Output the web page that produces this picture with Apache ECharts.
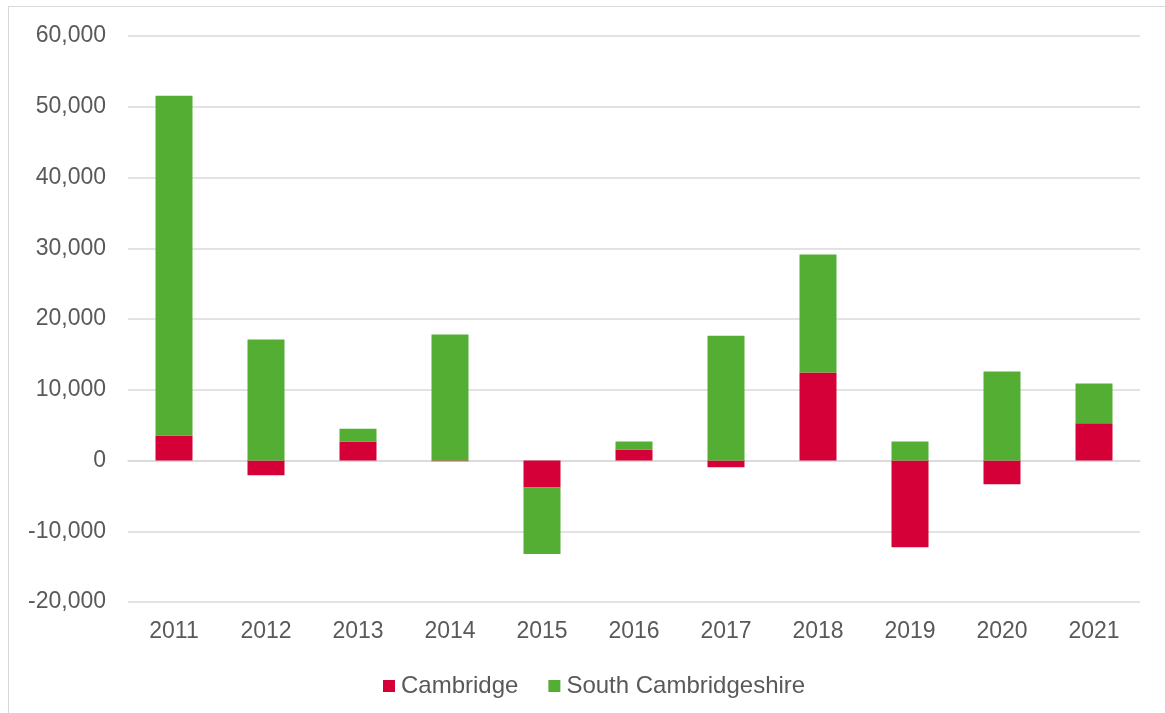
<!DOCTYPE html>
<html>
<head>
<meta charset="utf-8">
<script src="https://cdn.jsdelivr.net/npm/echarts@6/dist/echarts.min.js"></script>
<style>
  html, body { margin: 0; padding: 0; background: #fff; }
  #chart { width: 1165px; height: 713px; }
  .frame { position: absolute; left: 8px; top: 6px; width: 1160px; height: 712px; border: 1px solid #d9d9d9; box-sizing: border-box; pointer-events: none; }
</style>
</head>
<body>
<div id="chart"></div>
<div class="frame"></div>
<script>
// data
var years = ['2011', '2012', '2013', '2014', '2015', '2016', '2017', '2018', '2019', '2020', '2021'];
var cambridge = [3550, -2100, 2700, -100, -3800, 1550, -950, 12450, -12250, -3350, 5270];
var southCambs = [48000, 17100, 1800, 17800, -9430, 1150, 17650, 16670, 2680, 12570, 5610];

var myChart = echarts.init(document.getElementById('chart'));

var labelStyle = {
  color: '#595959',
  fontSize: 23,
  fontFamily: 'Liberation Sans, Arial, sans-serif'
};

var option = {
  animation: false,
  textStyle: { fontFamily: 'Liberation Sans, Arial, sans-serif' },
  grid: {
    left: 128,
    right: 25,
    top: 36,
    bottom: 111,
    outerBoundsMode: 'none'
  },
  legend: {
    data: ['Cambridge', 'South Cambridgeshire'],
    top: 669,
    left: 378,
    icon: 'rect',
    itemWidth: 12,
    itemHeight: 12,
    itemGap: 30,
    itemStyle: { borderWidth: 0 },
    textStyle: { color: '#595959', fontSize: 24, padding: [0, 0, 0, 1] }
  },
  xAxis: [{
    // zero line
    type: 'category',
    data: years,
    axisLine: { onZero: true, lineStyle: { color: '#d9d9d9', width: 1.5 } },
    axisTick: { show: false },
    axisLabel: { show: false }
  }, {
    // year labels under the plot
    type: 'category',
    data: years,
    position: 'bottom',
    axisLine: { show: false, onZero: false },
    axisTick: { show: false },
    axisLabel: Object.assign({ interval: 0, margin: 18 }, labelStyle)
  }],
  yAxis: {
    type: 'value',
    min: -20000,
    max: 60000,
    interval: 10000,
    axisLine: { show: false },
    axisTick: { show: false },
    splitLine: { lineStyle: { color: '#d9d9d9', width: 1.5 } },
    axisLabel: Object.assign({
      margin: 22,
      formatter: function(v) {
        return v.toLocaleString('en-US');
      }
    }, labelStyle)
  },
  series: [{
    name: 'Cambridge',
    type: 'bar',
    stack: 'total',
    barWidth: 37,
    itemStyle: { color: '#D50037' },
    data: cambridge
  }, {
    name: 'South Cambridgeshire',
    type: 'bar',
    stack: 'total',
    barWidth: 37,
    itemStyle: { color: '#55AE34' },
    data: southCambs
  }]
};

myChart.setOption(option);
</script>
</body>
</html>
